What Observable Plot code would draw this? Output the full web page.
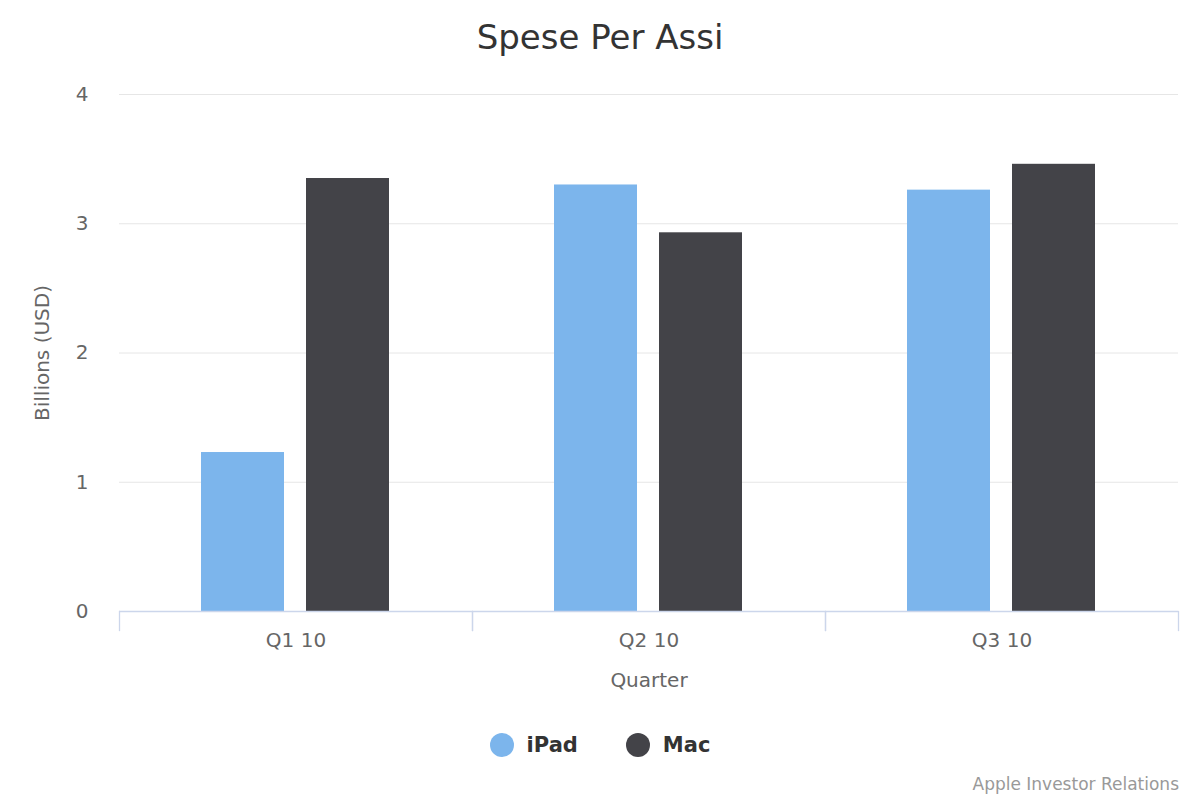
<!DOCTYPE html>
<html><head><meta charset="utf-8">
<script src="https://cdn.jsdelivr.net/npm/d3@7"></script>
<script src="https://cdn.jsdelivr.net/npm/@observablehq/plot@0.6"></script>
<style>
body{margin:0;background:#fff;font-family:"DejaVu Sans",sans-serif;}
#wrap{position:relative;width:1200px;height:800px;overflow:hidden;}
#title{position:absolute;top:16px;left:0;width:1200px;text-align:center;font-size:34px;color:#333;line-height:42px;}
#chart{position:absolute;top:70px;left:0;}
#legend{position:absolute;top:731px;left:0;width:1200px;display:flex;justify-content:center;align-items:center;height:28px;}
.item{display:flex;align-items:center;font-weight:bold;font-size:21px;color:#333;}
.item + .item{margin-left:48px;}
.sw{width:24px;height:24px;border-radius:50%;margin-right:13px;}
#credits{position:absolute;top:774px;right:21px;font-size:17px;color:#999;}
</style></head>
<body><div id="wrap">
<div id="title">Spese Per Assi</div>
<div id="chart"></div>
<div id="legend"></div>
<div id="credits">Apple Investor Relations</div>
</div>
<script>
const quarters = ["Q1 10","Q2 10","Q3 10"];
const seriesNames = ["iPad","Mac"];
const ipad = [1.23, 3.30, 3.26];
const mac = [3.35, 2.93, 3.46];
const colors = ["#7cb5ec","#434348"];
const yTicks = [0,1,2,3,4];

const data = quarters.flatMap((q,i)=>[
  {quarter:q, series:seriesNames[0], value:ipad[i]},
  {quarter:q, series:seriesNames[1], value:mac[i]}
]);

const chart = Plot.plot({
  width:1200, height:640, marginTop:24, marginBottom:99, marginLeft:118, marginRight:21,
  style:{fontFamily:"DejaVu Sans", fontSize:"19px", color:"#666", background:"#fff"},
  fx:{domain:quarters, padding:0},
  x:{domain:seriesNames, paddingInner:0.2075, paddingOuter:0.772, axis:null},
  y:{domain:[0,4]},
  color:{domain:seriesNames, range:colors},
  marks:[
    Plot.gridY(yTicks,{stroke:"#e6e6e6", strokeOpacity:1, strokeWidth:1}),
    Plot.barY(data,{fx:"quarter", x:"series", y:"value", fill:"series"}),
    Plot.ruleY([0],{stroke:"#ccd6eb", strokeWidth:1.3}),
    Plot.frame({anchor:"left", stroke:"#ccd6eb", strokeWidth:1.3, insetTop:517, insetBottom:-19}),
    Plot.frame({anchor:"right", stroke:"#ccd6eb", strokeWidth:1.3, insetTop:517, insetBottom:-19}),
    Plot.axisY(yTicks,{tickSize:0, tickPadding:31, tickFormat:d3.format("d"), label:"Billions (USD)", labelArrow:"none", labelAnchor:"center", labelOffset:85, fontSize:20, fill:"#666"}),
    Plot.axisFx({anchor:"bottom", tickSize:0, tickPadding:21, label:"Quarter", labelArrow:"none", labelAnchor:"center", labelOffset:75, fontSize:20, fill:"#666"})
  ]
});
document.getElementById("chart").appendChild(chart);

const legend = document.getElementById("legend");
seriesNames.forEach((s,i)=>{
  const it = document.createElement("div"); it.className="item";
  const sw = document.createElement("span"); sw.className="sw"; sw.style.background=colors[i];
  const tx = document.createElement("span"); tx.textContent=s;
  it.appendChild(sw); it.appendChild(tx); legend.appendChild(it);
});
</script>
</body></html>
